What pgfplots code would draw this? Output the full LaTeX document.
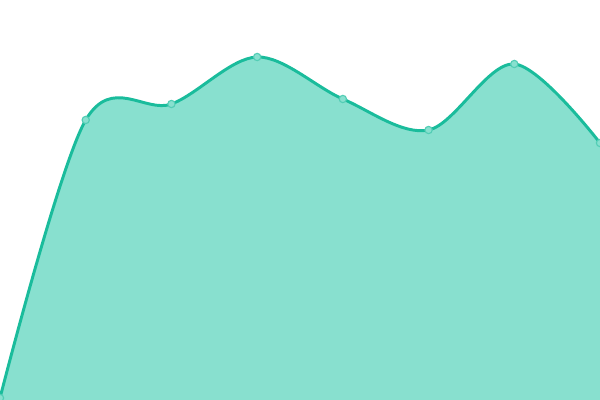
\documentclass[border=0pt]{standalone}
\usepackage{pgfplots}
\pgfplotsset{compat=1.18}
\definecolor{lineC}{HTML}{1ABC9C}
\definecolor{fillC}{HTML}{88E0CF}
\begin{document}
\begin{tikzpicture}
\begin{axis}[
  scale only axis, width=15cm, height=10cm,
  xmin=0, xmax=7, ymin=0, ymax=400,
  hide axis, clip=true, clip marker paths=true,
]
\addplot[smooth, tension=0.55, draw=none, fill=fillC] coordinates {
(0,2) (1,280) (2,296) (3,343) (4,301) (5,270) (6,336) (7,257)
} \closedcycle;
\addplot[smooth, tension=0.55, lineC, line width=2.1pt, mark=*, mark size=2.6pt,
  mark options={fill=fillC, draw=lineC!75!white, line width=0.8pt}] coordinates {
(0,2) (1,280) (2,296) (3,343) (4,301) (5,270) (6,336) (7,257)
};
\end{axis}
\pgfresetboundingbox
\path (current axis.south west) rectangle (current axis.north east);
\end{tikzpicture}
\end{document}
